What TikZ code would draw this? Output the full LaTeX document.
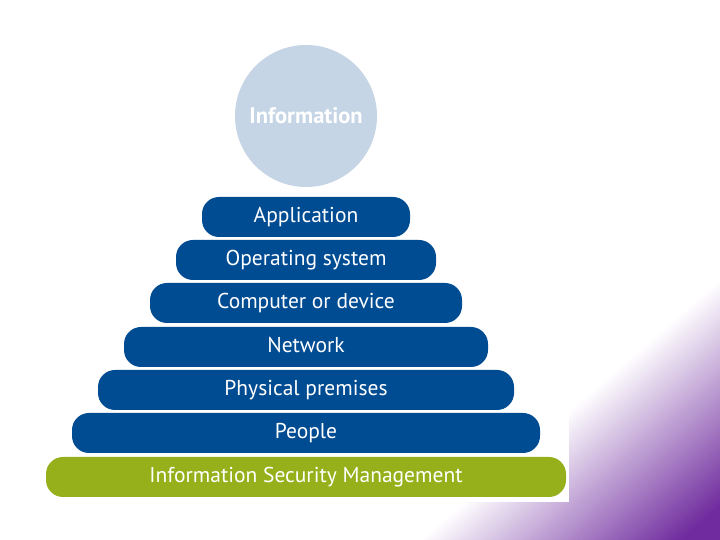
\documentclass[tikz,border=0pt]{standalone}
\usepackage{fontspec}
\setmainfont{PT Sans}
\definecolor{barblue}{RGB}{0,76,147}
\definecolor{bargreen}{RGB}{149,176,26}
\definecolor{circfill}{RGB}{197,213,229}
\definecolor{purp}{RGB}{112,44,158}
\begin{document}
\begin{tikzpicture}[x=1pt,y=1pt,
  bar/.style={fill=barblue, rounded corners=17pt, minimum height=40pt, inner sep=0pt,
    text=white, text height=15.5pt, text depth=4pt, font=\fontsize{21.5}{25}\selectfont},
  topcircle/.style={circle, fill=circfill, minimum size=142pt, inner sep=0pt, text=white,
    font=\bfseries\fontsize{22.5}{26}\selectfont}]
\useasboundingbox (0,0) rectangle (720,540);
\begin{scope}
  \clip (0,0) rectangle (720,540);
  \foreach \i in {0,...,59} {
    \pgfmathsetmacro\p{\i*100/59}
    \fill[purp!\p!white, shift={(720,262)}, rotate=41] (-800,-\i*2.9) rectangle (800,-900);
  }
\end{scope}
\fill[white] (0,38) rectangle (569,540);
\node[topcircle] (info) at (306,424) {Information};
\node[bar, minimum width=208pt] (app) at (306,323) {Application};
\node[bar, minimum width=260pt] (os) at (306,280) {Operating system};
\node[bar, minimum width=312pt] (comp) at (306,237) {Computer or device};
\node[bar, minimum width=364pt] (net) at (306,193) {Network};
\node[bar, minimum width=416pt] (phys) at (306,150) {Physical premises};
\node[bar, minimum width=468pt] (people) at (306,107) {People};
\node[bar, fill=bargreen, minimum width=520pt] (ism) at (306,63) {Information Security Management};
\end{tikzpicture}
\end{document}
